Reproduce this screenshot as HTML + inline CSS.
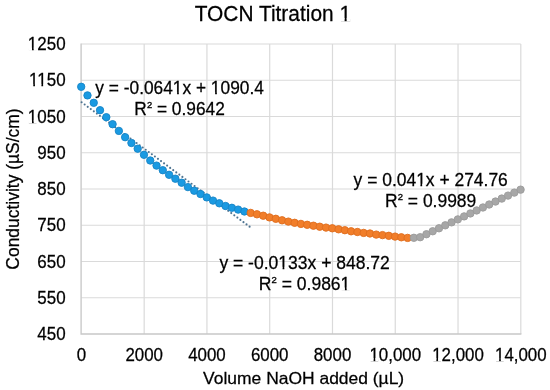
<!DOCTYPE html>
<html><head><meta charset="utf-8"><style>
html,body{margin:0;padding:0;background:#fff;}
svg{display:block;will-change:transform;}
text{font-family:"Liberation Sans",sans-serif;fill:#000;stroke:#000;stroke-width:0.25px;}
.g{stroke:#dadada;stroke-width:1.2;}
</style></head><body>
<svg width="550" height="390" viewBox="0 0 550 390">
<rect width="550" height="390" fill="#fff"/>
<line x1="81.4" y1="297.75" x2="520.8" y2="297.75" class="g"/>
<line x1="81.4" y1="261.50" x2="520.8" y2="261.50" class="g"/>
<line x1="81.4" y1="225.25" x2="520.8" y2="225.25" class="g"/>
<line x1="81.4" y1="189.00" x2="520.8" y2="189.00" class="g"/>
<line x1="81.4" y1="152.75" x2="520.8" y2="152.75" class="g"/>
<line x1="81.4" y1="116.50" x2="520.8" y2="116.50" class="g"/>
<line x1="81.4" y1="80.25" x2="520.8" y2="80.25" class="g"/>
<line x1="81.4" y1="44.00" x2="520.8" y2="44.00" class="g"/>
<line x1="144.17" y1="44.0" x2="144.17" y2="334.0" class="g"/>
<line x1="206.94" y1="44.0" x2="206.94" y2="334.0" class="g"/>
<line x1="269.71" y1="44.0" x2="269.71" y2="334.0" class="g"/>
<line x1="332.49" y1="44.0" x2="332.49" y2="334.0" class="g"/>
<line x1="395.26" y1="44.0" x2="395.26" y2="334.0" class="g"/>
<line x1="458.03" y1="44.0" x2="458.03" y2="334.0" class="g"/>
<line x1="520.80" y1="44.0" x2="520.80" y2="334.0" class="g"/>
<path d="M81.10000000000001 43.4V334.0H521.4" fill="none" stroke="#c8c8c8" stroke-width="1.35"/>
<g fill="#4d7391"><circle cx="81.60" cy="102.30" r="1.05"/><circle cx="84.65" cy="104.57" r="1.05"/><circle cx="87.71" cy="106.83" r="1.05"/><circle cx="90.76" cy="109.09" r="1.05"/><circle cx="93.82" cy="111.35" r="1.05"/><circle cx="96.87" cy="113.61" r="1.05"/><circle cx="99.92" cy="115.87" r="1.05"/><circle cx="102.98" cy="118.13" r="1.05"/><circle cx="106.03" cy="120.39" r="1.05"/><circle cx="109.09" cy="122.65" r="1.05"/><circle cx="112.14" cy="124.92" r="1.05"/><circle cx="115.20" cy="127.18" r="1.05"/><circle cx="118.25" cy="129.44" r="1.05"/><circle cx="121.30" cy="131.70" r="1.05"/><circle cx="124.36" cy="133.96" r="1.05"/><circle cx="127.41" cy="136.22" r="1.05"/><circle cx="130.47" cy="138.48" r="1.05"/><circle cx="133.52" cy="140.74" r="1.05"/><circle cx="136.57" cy="143.00" r="1.05"/><circle cx="139.63" cy="145.27" r="1.05"/><circle cx="142.68" cy="147.53" r="1.05"/><circle cx="145.74" cy="149.79" r="1.05"/><circle cx="148.79" cy="152.05" r="1.05"/><circle cx="151.84" cy="154.31" r="1.05"/><circle cx="154.90" cy="156.57" r="1.05"/><circle cx="157.95" cy="158.83" r="1.05"/><circle cx="161.01" cy="161.09" r="1.05"/><circle cx="164.06" cy="163.35" r="1.05"/><circle cx="167.11" cy="165.62" r="1.05"/><circle cx="170.17" cy="167.88" r="1.05"/><circle cx="173.22" cy="170.14" r="1.05"/><circle cx="176.28" cy="172.40" r="1.05"/><circle cx="179.33" cy="174.66" r="1.05"/><circle cx="182.39" cy="176.92" r="1.05"/><circle cx="185.44" cy="179.18" r="1.05"/><circle cx="188.49" cy="181.44" r="1.05"/><circle cx="191.55" cy="183.70" r="1.05"/><circle cx="194.60" cy="185.97" r="1.05"/><circle cx="197.66" cy="188.23" r="1.05"/><circle cx="200.71" cy="190.49" r="1.05"/><circle cx="203.76" cy="192.75" r="1.05"/><circle cx="206.82" cy="195.01" r="1.05"/><circle cx="209.87" cy="197.27" r="1.05"/><circle cx="212.93" cy="199.53" r="1.05"/><circle cx="215.98" cy="201.79" r="1.05"/><circle cx="219.03" cy="204.05" r="1.05"/><circle cx="222.09" cy="206.31" r="1.05"/><circle cx="225.14" cy="208.58" r="1.05"/><circle cx="228.20" cy="210.84" r="1.05"/><circle cx="231.25" cy="213.10" r="1.05"/><circle cx="234.30" cy="215.36" r="1.05"/><circle cx="237.36" cy="217.62" r="1.05"/><circle cx="240.41" cy="219.88" r="1.05"/><circle cx="243.47" cy="222.14" r="1.05"/><circle cx="246.52" cy="224.40" r="1.05"/><circle cx="249.58" cy="226.66" r="1.05"/></g>
<circle cx="81.20" cy="86.80" r="3.7" fill="#1a9ae2" stroke="#1784c6" stroke-width="0.9"/>
<circle cx="87.48" cy="95.40" r="3.7" fill="#1a9ae2" stroke="#1784c6" stroke-width="0.9"/>
<circle cx="93.75" cy="102.80" r="3.7" fill="#1a9ae2" stroke="#1784c6" stroke-width="0.9"/>
<circle cx="100.03" cy="110.20" r="3.7" fill="#1a9ae2" stroke="#1784c6" stroke-width="0.9"/>
<circle cx="106.31" cy="117.20" r="3.7" fill="#1a9ae2" stroke="#1784c6" stroke-width="0.9"/>
<circle cx="112.59" cy="124.20" r="3.7" fill="#1a9ae2" stroke="#1784c6" stroke-width="0.9"/>
<circle cx="118.86" cy="130.90" r="3.7" fill="#1a9ae2" stroke="#1784c6" stroke-width="0.9"/>
<circle cx="125.14" cy="137.20" r="3.7" fill="#1a9ae2" stroke="#1784c6" stroke-width="0.9"/>
<circle cx="131.42" cy="143.00" r="3.7" fill="#1a9ae2" stroke="#1784c6" stroke-width="0.9"/>
<circle cx="137.69" cy="148.70" r="3.7" fill="#1a9ae2" stroke="#1784c6" stroke-width="0.9"/>
<circle cx="143.97" cy="154.80" r="3.7" fill="#1a9ae2" stroke="#1784c6" stroke-width="0.9"/>
<circle cx="150.25" cy="160.50" r="3.7" fill="#1a9ae2" stroke="#1784c6" stroke-width="0.9"/>
<circle cx="156.53" cy="165.60" r="3.7" fill="#1a9ae2" stroke="#1784c6" stroke-width="0.9"/>
<circle cx="162.80" cy="170.20" r="3.7" fill="#1a9ae2" stroke="#1784c6" stroke-width="0.9"/>
<circle cx="169.08" cy="174.80" r="3.7" fill="#1a9ae2" stroke="#1784c6" stroke-width="0.9"/>
<circle cx="175.36" cy="178.70" r="3.7" fill="#1a9ae2" stroke="#1784c6" stroke-width="0.9"/>
<circle cx="181.63" cy="182.70" r="3.7" fill="#1a9ae2" stroke="#1784c6" stroke-width="0.9"/>
<circle cx="187.91" cy="187.10" r="3.7" fill="#1a9ae2" stroke="#1784c6" stroke-width="0.9"/>
<circle cx="194.19" cy="190.70" r="3.7" fill="#1a9ae2" stroke="#1784c6" stroke-width="0.9"/>
<circle cx="200.47" cy="194.00" r="3.7" fill="#1a9ae2" stroke="#1784c6" stroke-width="0.9"/>
<circle cx="206.74" cy="197.40" r="3.7" fill="#1a9ae2" stroke="#1784c6" stroke-width="0.9"/>
<circle cx="213.02" cy="200.60" r="3.7" fill="#1a9ae2" stroke="#1784c6" stroke-width="0.9"/>
<circle cx="219.30" cy="203.30" r="3.7" fill="#1a9ae2" stroke="#1784c6" stroke-width="0.9"/>
<circle cx="225.57" cy="206.00" r="3.7" fill="#1a9ae2" stroke="#1784c6" stroke-width="0.9"/>
<circle cx="231.85" cy="207.80" r="3.7" fill="#1a9ae2" stroke="#1784c6" stroke-width="0.9"/>
<circle cx="238.13" cy="209.60" r="3.7" fill="#1a9ae2" stroke="#1784c6" stroke-width="0.9"/>
<circle cx="244.41" cy="211.50" r="3.7" fill="#1a9ae2" stroke="#1784c6" stroke-width="0.9"/>
<circle cx="250.68" cy="212.90" r="3.7" fill="#f17e2a" stroke="#df6d1e" stroke-width="0.9"/>
<circle cx="256.96" cy="214.30" r="3.7" fill="#f17e2a" stroke="#df6d1e" stroke-width="0.9"/>
<circle cx="263.24" cy="215.70" r="3.7" fill="#f17e2a" stroke="#df6d1e" stroke-width="0.9"/>
<circle cx="269.51" cy="217.40" r="3.7" fill="#f17e2a" stroke="#df6d1e" stroke-width="0.9"/>
<circle cx="275.79" cy="218.80" r="3.7" fill="#f17e2a" stroke="#df6d1e" stroke-width="0.9"/>
<circle cx="282.07" cy="220.30" r="3.7" fill="#f17e2a" stroke="#df6d1e" stroke-width="0.9"/>
<circle cx="288.35" cy="221.60" r="3.7" fill="#f17e2a" stroke="#df6d1e" stroke-width="0.9"/>
<circle cx="294.62" cy="222.80" r="3.7" fill="#f17e2a" stroke="#df6d1e" stroke-width="0.9"/>
<circle cx="300.90" cy="223.90" r="3.7" fill="#f17e2a" stroke="#df6d1e" stroke-width="0.9"/>
<circle cx="307.18" cy="224.80" r="3.7" fill="#f17e2a" stroke="#df6d1e" stroke-width="0.9"/>
<circle cx="313.45" cy="225.70" r="3.7" fill="#f17e2a" stroke="#df6d1e" stroke-width="0.9"/>
<circle cx="319.73" cy="226.70" r="3.7" fill="#f17e2a" stroke="#df6d1e" stroke-width="0.9"/>
<circle cx="326.01" cy="227.60" r="3.7" fill="#f17e2a" stroke="#df6d1e" stroke-width="0.9"/>
<circle cx="332.29" cy="228.30" r="3.7" fill="#f17e2a" stroke="#df6d1e" stroke-width="0.9"/>
<circle cx="338.56" cy="229.30" r="3.7" fill="#f17e2a" stroke="#df6d1e" stroke-width="0.9"/>
<circle cx="344.84" cy="230.20" r="3.7" fill="#f17e2a" stroke="#df6d1e" stroke-width="0.9"/>
<circle cx="351.12" cy="231.30" r="3.7" fill="#f17e2a" stroke="#df6d1e" stroke-width="0.9"/>
<circle cx="357.39" cy="232.00" r="3.7" fill="#f17e2a" stroke="#df6d1e" stroke-width="0.9"/>
<circle cx="363.67" cy="232.90" r="3.7" fill="#f17e2a" stroke="#df6d1e" stroke-width="0.9"/>
<circle cx="369.95" cy="233.50" r="3.7" fill="#f17e2a" stroke="#df6d1e" stroke-width="0.9"/>
<circle cx="376.23" cy="234.60" r="3.7" fill="#f17e2a" stroke="#df6d1e" stroke-width="0.9"/>
<circle cx="382.50" cy="235.10" r="3.7" fill="#f17e2a" stroke="#df6d1e" stroke-width="0.9"/>
<circle cx="388.78" cy="235.80" r="3.7" fill="#f17e2a" stroke="#df6d1e" stroke-width="0.9"/>
<circle cx="395.06" cy="236.60" r="3.7" fill="#f17e2a" stroke="#df6d1e" stroke-width="0.9"/>
<circle cx="401.33" cy="237.30" r="3.7" fill="#f17e2a" stroke="#df6d1e" stroke-width="0.9"/>
<circle cx="407.61" cy="237.90" r="3.7" fill="#f17e2a" stroke="#df6d1e" stroke-width="0.9"/>
<circle cx="413.89" cy="237.80" r="3.7" fill="#a7a7a7" stroke="#9b9b9b" stroke-width="0.9"/>
<circle cx="420.17" cy="237.21" r="3.7" fill="#a7a7a7" stroke="#9b9b9b" stroke-width="0.9"/>
<circle cx="426.44" cy="234.24" r="3.7" fill="#a7a7a7" stroke="#9b9b9b" stroke-width="0.9"/>
<circle cx="432.72" cy="231.26" r="3.7" fill="#a7a7a7" stroke="#9b9b9b" stroke-width="0.9"/>
<circle cx="439.00" cy="228.29" r="3.7" fill="#a7a7a7" stroke="#9b9b9b" stroke-width="0.9"/>
<circle cx="445.27" cy="225.32" r="3.7" fill="#a7a7a7" stroke="#9b9b9b" stroke-width="0.9"/>
<circle cx="451.55" cy="222.35" r="3.7" fill="#a7a7a7" stroke="#9b9b9b" stroke-width="0.9"/>
<circle cx="457.83" cy="219.37" r="3.7" fill="#a7a7a7" stroke="#9b9b9b" stroke-width="0.9"/>
<circle cx="464.11" cy="216.40" r="3.7" fill="#a7a7a7" stroke="#9b9b9b" stroke-width="0.9"/>
<circle cx="470.38" cy="213.43" r="3.7" fill="#a7a7a7" stroke="#9b9b9b" stroke-width="0.9"/>
<circle cx="476.66" cy="210.46" r="3.7" fill="#a7a7a7" stroke="#9b9b9b" stroke-width="0.9"/>
<circle cx="482.94" cy="207.48" r="3.7" fill="#a7a7a7" stroke="#9b9b9b" stroke-width="0.9"/>
<circle cx="489.21" cy="204.51" r="3.7" fill="#a7a7a7" stroke="#9b9b9b" stroke-width="0.9"/>
<circle cx="495.49" cy="201.54" r="3.7" fill="#a7a7a7" stroke="#9b9b9b" stroke-width="0.9"/>
<circle cx="501.77" cy="198.57" r="3.7" fill="#a7a7a7" stroke="#9b9b9b" stroke-width="0.9"/>
<circle cx="508.05" cy="195.59" r="3.7" fill="#a7a7a7" stroke="#9b9b9b" stroke-width="0.9"/>
<circle cx="514.32" cy="192.62" r="3.7" fill="#a7a7a7" stroke="#9b9b9b" stroke-width="0.9"/>
<circle cx="520.60" cy="189.65" r="3.7" fill="#a7a7a7" stroke="#9b9b9b" stroke-width="0.9"/>
<g transform="translate(194.7 20.7) scale(1.0 1.025)"><text text-anchor="start" font-size="20.9" >TOCN Titration 1</text><g fill="#fff"><rect x="145.15" y="-2.46" width="4.75" height="3.26"/><rect x="151.94" y="-2.46" width="4.22" height="3.26"/></g></g>
<g transform="translate(65.6 340.05) scale(0.98 1.05)"><text text-anchor="end" font-size="17.33" >450</text></g>
<g transform="translate(65.6 303.80) scale(0.98 1.05)"><text text-anchor="end" font-size="17.33" >550</text></g>
<g transform="translate(65.6 267.55) scale(0.98 1.05)"><text text-anchor="end" font-size="17.33" >650</text></g>
<g transform="translate(65.6 231.30) scale(0.98 1.05)"><text text-anchor="end" font-size="17.33" >750</text></g>
<g transform="translate(65.6 195.05) scale(0.98 1.05)"><text text-anchor="end" font-size="17.33" >850</text></g>
<g transform="translate(65.6 158.80) scale(0.98 1.05)"><text text-anchor="end" font-size="17.33" >950</text></g>
<g transform="translate(65.6 122.55) scale(0.98 1.05)"><text text-anchor="end" font-size="17.33" >1050</text><g fill="#fff"><rect x="-38.20" y="-2.19" width="3.92" height="2.99"/><rect x="-32.55" y="-2.19" width="3.50" height="2.99"/></g></g>
<g transform="translate(65.6 86.30) scale(0.98 1.05)"><text text-anchor="end" font-size="17.33" >1150</text><g fill="#fff"><rect x="-36.92" y="-2.19" width="3.92" height="2.99"/><rect x="-31.27" y="-2.19" width="3.50" height="2.99"/><rect x="-28.59" y="-2.19" width="3.92" height="2.99"/><rect x="-22.93" y="-2.19" width="3.50" height="2.99"/></g></g>
<g transform="translate(65.6 50.05) scale(0.98 1.05)"><text text-anchor="end" font-size="17.33" >1250</text><g fill="#fff"><rect x="-38.20" y="-2.19" width="3.92" height="2.99"/><rect x="-32.55" y="-2.19" width="3.50" height="2.99"/></g></g>
<g transform="translate(81.40 360.5) scale(0.975 1.04)"><text text-anchor="middle" font-size="17.33" >0</text></g>
<g transform="translate(144.17 360.5) scale(0.975 1.04)"><text text-anchor="middle" font-size="17.33" >2000</text></g>
<g transform="translate(206.94 360.5) scale(0.975 1.04)"><text text-anchor="middle" font-size="17.33" >4000</text></g>
<g transform="translate(269.71 360.5) scale(0.975 1.04)"><text text-anchor="middle" font-size="17.33" >6000</text></g>
<g transform="translate(332.49 360.5) scale(0.975 1.04)"><text text-anchor="middle" font-size="17.33" >8000</text></g>
<g transform="translate(395.26 360.5) scale(0.975 1.04)"><text text-anchor="middle" font-size="17.33" >10,000</text><g fill="#fff"><rect x="-26.14" y="-2.19" width="3.92" height="2.99"/><rect x="-20.49" y="-2.19" width="3.50" height="2.99"/></g></g>
<g transform="translate(458.03 360.5) scale(0.975 1.04)"><text text-anchor="middle" font-size="17.33" >12,000</text><g fill="#fff"><rect x="-26.14" y="-2.19" width="3.92" height="2.99"/><rect x="-20.49" y="-2.19" width="3.50" height="2.99"/></g></g>
<g transform="translate(520.80 360.5) scale(0.975 1.04)"><text text-anchor="middle" font-size="17.33" >14,000</text><g fill="#fff"><rect x="-26.14" y="-2.19" width="3.92" height="2.99"/><rect x="-20.49" y="-2.19" width="3.50" height="2.99"/></g></g>
<g transform="translate(203.1 383.8) scale(1.008 1.0)"><text text-anchor="start" font-size="17.33" >Volume NaOH added (µL)</text></g>
<g transform="translate(18.5 189) rotate(-90) scale(1 1.04)"><text text-anchor="middle" font-size="17.45">Conductivity (µS/cm)</text></g>
<g transform="translate(179.6 94.2) scale(1.0 1.06)"><text text-anchor="middle" font-size="17.33" >y = -0.0641x + 1090.4</text><g fill="#fff"><rect x="-6.42" y="-2.19" width="3.92" height="2.99"/><rect x="-0.77" y="-2.19" width="3.50" height="2.99"/><rect x="31.61" y="-2.19" width="3.92" height="2.99"/><rect x="37.26" y="-2.19" width="3.50" height="2.99"/></g></g><g transform="translate(179.6 114.9) scale(1.0 1.06)"><text text-anchor="middle" font-size="17.33" >R<tspan font-size="9.4" dy="-6.5" stroke="#000" stroke-width="0.35">2</tspan><tspan dy="6.5"> </tspan>= 0.9642</text></g>
<g transform="translate(430.7 186.1) scale(1.008 1.06)"><text text-anchor="middle" font-size="17.33" >y = 0.041x + 274.76</text><g fill="#fff"><rect x="-14.12" y="-2.19" width="3.92" height="2.99"/><rect x="-8.47" y="-2.19" width="3.50" height="2.99"/></g></g><g transform="translate(430.7 206.79999999999998) scale(1.008 1.06)"><text text-anchor="middle" font-size="17.33" >R<tspan font-size="9.4" dy="-6.5" stroke="#000" stroke-width="0.35">2</tspan><tspan dy="6.5"> </tspan>= 0.9989</text></g>
<g transform="translate(304.6 269.2) scale(1.012 1.06)"><text text-anchor="middle" font-size="17.33" >y = -0.0133x + 848.72</text><g fill="#fff"><rect x="-25.67" y="-2.19" width="3.92" height="2.99"/><rect x="-20.02" y="-2.19" width="3.50" height="2.99"/></g></g><g transform="translate(304.6 289.9) scale(1.012 1.06)"><text text-anchor="middle" font-size="17.33" >R<tspan font-size="9.4" dy="-6.5" stroke="#000" stroke-width="0.35">2</tspan><tspan dy="6.5"> </tspan>= 0.9861</text><g fill="#fff"><rect x="35.92" y="-2.19" width="3.92" height="2.99"/><rect x="41.57" y="-2.19" width="3.50" height="2.99"/></g></g>
</svg>
</body></html>
